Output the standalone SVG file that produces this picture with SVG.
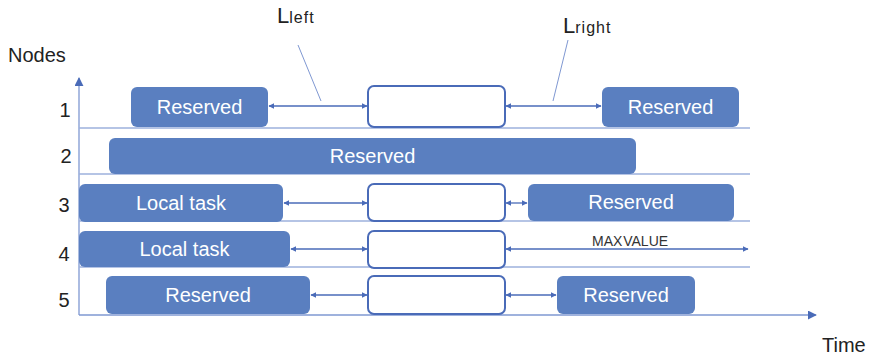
<svg xmlns="http://www.w3.org/2000/svg" width="879" height="357" viewBox="0 0 879 357">
  <style>
    .res { fill: #5a7fc0; }
    .slot { fill: #ffffff; stroke: #4a6bb8; stroke-width: 2; }
    .lane { stroke: #9cb0dc; stroke-width: 1.5; fill: none; }
    .axis { stroke: #7f98d2; stroke-width: 1.3; fill: none; }
    .link { stroke: #4a6bb8; stroke-width: 1.3; fill: none; }
    .lead { stroke: #7f98d2; stroke-width: 1; fill: none; }
    .in { font-family: "Liberation Sans", Arial, sans-serif; font-size: 20px; fill: #ffffff; text-anchor: middle; }
    .lbl { font-family: "Liberation Sans", Arial, sans-serif; font-size: 20px; fill: #222222; }
    .num { font-family: "Liberation Sans", Arial, sans-serif; font-size: 20px; fill: #222222; text-anchor: middle; }
    .big { font-size: 22px; }
    .sub { font-size: 16px; letter-spacing: 1px; }
  </style>
  <defs>
    <marker id="ah" viewBox="0 0 10 10" refX="9" refY="5" markerWidth="6" markerHeight="6" markerUnits="userSpaceOnUse" orient="auto-start-reverse">
      <path d="M0,0 L10,5 L0,10 z" fill="#4a6bb8"/>
    </marker>
    <marker id="axh" viewBox="0 0 10 10" refX="9" refY="5" markerWidth="9" markerHeight="9" markerUnits="userSpaceOnUse" orient="auto">
      <path d="M0,0 L10,5 L0,10 z" fill="#4a6bb8"/>
    </marker>
  </defs>

  <!-- axes and lane separators -->
  <g id="axes">
    <line class="axis" x1="79" y1="315" x2="79" y2="78" marker-end="url(#axh)"/>
    <line class="axis" x1="79" y1="315" x2="816" y2="315" marker-end="url(#axh)"/>
    <line class="lane" x1="79" y1="128" x2="750" y2="128"/>
    <line class="lane" x1="79" y1="174" x2="750" y2="174"/>
    <line class="lane" x1="79" y1="221" x2="750" y2="221"/>
    <line class="lane" x1="79" y1="267" x2="750" y2="267"/>
    <text class="lbl" x="8" y="62">Nodes</text>
    <text class="lbl" x="822" y="352">Time</text>
    <text class="num" x="65" y="117">1</text>
    <text class="num" x="66" y="163">2</text>
    <text class="num" x="64" y="212">3</text>
    <text class="num" x="64" y="261">4</text>
    <text class="num" x="64" y="307">5</text>
  </g>

  <!-- node 1 -->
  <g id="n1-reserved-left">
    <rect class="res" x="131" y="87" width="137" height="40" rx="6"/>
    <text class="in" x="199.5" y="114">Reserved</text>
  </g>
  <g id="n1-slot"><rect class="slot" x="368" y="86" width="137" height="41" rx="6"/></g>
  <g id="n1-reserved-right">
    <rect class="res" x="602" y="87" width="137" height="40" rx="6"/>
    <text class="in" x="670.5" y="114">Reserved</text>
  </g>

  <!-- node 2 -->
  <g id="n2-reserved">
    <rect class="res" x="109" y="138" width="527" height="36" rx="6"/>
    <text class="in" x="372.5" y="163">Reserved</text>
  </g>

  <!-- node 3 -->
  <g id="n3-local">
    <rect class="res" x="79" y="184" width="204" height="38" rx="6"/>
    <text class="in" x="181" y="210">Local task</text>
  </g>
  <g id="n3-slot"><rect class="slot" x="368" y="184" width="137" height="37" rx="6"/></g>
  <g id="n3-reserved">
    <rect class="res" x="528" y="184" width="206" height="37" rx="6"/>
    <text class="in" x="631" y="209">Reserved</text>
  </g>

  <!-- node 4 -->
  <g id="n4-local">
    <rect class="res" x="79" y="231" width="211" height="36" rx="6"/>
    <text class="in" x="184.5" y="256">Local task</text>
  </g>
  <g id="n4-slot"><rect class="slot" x="368" y="231" width="137" height="37" rx="6"/></g>

  <!-- node 5 -->
  <g id="n5-reserved-left">
    <rect class="res" x="106" y="276" width="204" height="38" rx="6"/>
    <text class="in" x="208" y="302">Reserved</text>
  </g>
  <g id="n5-slot"><rect class="slot" x="368" y="276" width="137" height="38" rx="6"/></g>
  <g id="n5-reserved-right">
    <rect class="res" x="557" y="276" width="138" height="38" rx="6"/>
    <text class="in" x="626" y="302">Reserved</text>
  </g>

  <!-- gap arrows and labels -->
  <g id="connectors">
    <line class="link" x1="269" y1="106" x2="367" y2="106" marker-start="url(#ah)" marker-end="url(#ah)"/>
    <line class="link" x1="506" y1="106" x2="601" y2="106" marker-start="url(#ah)" marker-end="url(#ah)"/>
    <line class="link" x1="284" y1="203" x2="367" y2="203" marker-start="url(#ah)" marker-end="url(#ah)"/>
    <line class="link" x1="506" y1="203" x2="527" y2="203" marker-start="url(#ah)" marker-end="url(#ah)"/>
    <line class="link" x1="291" y1="249" x2="367" y2="249" marker-start="url(#ah)" marker-end="url(#ah)"/>
    <line class="link" x1="506" y1="249" x2="748" y2="249" marker-start="url(#ah)" marker-end="url(#ah)"/>
    <line class="link" x1="311" y1="295" x2="367" y2="295" marker-start="url(#ah)" marker-end="url(#ah)"/>
    <line class="link" x1="506" y1="295" x2="556" y2="295" marker-start="url(#ah)" marker-end="url(#ah)"/>
    <line class="lead" x1="298" y1="45" x2="321" y2="101"/>
    <line class="lead" x1="568" y1="40" x2="553" y2="101"/>
    <text class="lbl big" x="277" y="23">L<tspan class="sub">left</tspan></text>
    <text class="lbl big" x="563" y="33">L<tspan class="sub">right</tspan></text>
    <text class="lbl" x="592" y="246" style="font-size:14px; word-spacing:-3px; fill:#333333">MAX VALUE</text>
  </g>
</svg>
